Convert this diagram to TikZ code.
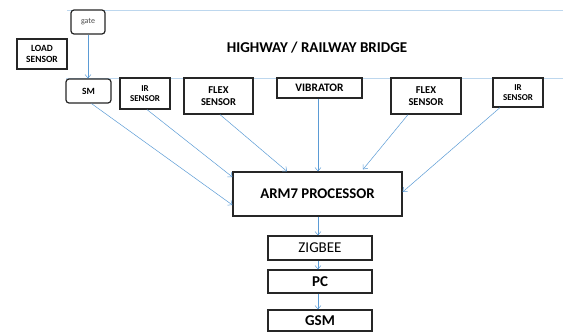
\documentclass[tikz,border=0pt]{standalone}
\usepackage{fontspec}
\setmainfont{Carlito}
\usetikzlibrary{arrows.meta}
\definecolor{arrowblue}{RGB}{91,155,213}
\definecolor{lineblue}{RGB}{189,215,238}
\begin{document}
\begin{tikzpicture}[x=1pt,y=-1pt,
  box/.style={draw=black!85,line width=1.2pt,fill=white,inner sep=0pt,align=center,
    font=\bfseries\fontsize{9.5}{10.5}\selectfont},
  rbox/.style={box,rounded corners=3pt},
  conn/.style={draw=arrowblue,line width=0.5pt,-{Straight Barb[length=3.5pt,width=6pt]}},
  rail/.style={draw=lineblue,line width=0.8pt}]
\useasboundingbox (0,0) rectangle (563,332);
% bridge lines
\coordinate (t1) at (67,10);
\coordinate (t2) at (563,10);
\coordinate (b1) at (66,78);
\coordinate (b2) at (563,78);
\draw[rail] (t1) -- (t2);
\draw[rail] (b1) -- (b2);
% title
\node[font=\bfseries\fontsize{15}{16}\selectfont] (title) at (317,48) {HIGHWAY / RAILWAY BRIDGE};
% nodes
\node[rbox,minimum width=34pt,minimum height=24pt,font=\fontsize{8}{9}\selectfont,text=black!70] (gate) at (88,22) {gate};
\node[box,minimum width=50pt,minimum height=30pt] (load) at (42,54) {LOAD\\SENSOR};
\node[rbox,minimum width=45pt,minimum height=24pt] (sm) at (88.5,91) {SM};
\node[box,minimum width=50pt,minimum height=31pt,font=\bfseries\fontsize{9}{10}\selectfont] (ir1) at (145,93.5) {IR\\SENSOR};
\node[box,minimum width=69pt,minimum height=36pt,font=\bfseries\fontsize{10.5}{12.5}\selectfont] (flex1) at (218.5,96) {FLEX\\SENSOR};
\node[box,minimum width=85pt,minimum height=20pt,font=\bfseries\fontsize{11.4}{12}\selectfont] (vib) at (319.5,88) {VIBRATOR};
\node[box,minimum width=70pt,minimum height=36pt,font=\bfseries\fontsize{10.5}{12.5}\selectfont] (flex2) at (426,96) {FLEX\\SENSOR};
\node[box,minimum width=50pt,minimum height=29pt,font=\bfseries\fontsize{9}{10}\selectfont] (ir2) at (518,92.5) {IR\\SENSOR};
\node[box,minimum width=169pt,minimum height=44pt,font=\bfseries\fontsize{14.8}{15}\selectfont] (arm) at (317.5,194) {ARM7 PROCESSOR};
\node[box,minimum width=104pt,minimum height=24pt,font=\fontsize{15}{16}\selectfont] (zig) at (320,248) {ZIGBEE};
\node[box,minimum width=104pt,minimum height=23pt,font=\bfseries\fontsize{15}{16}\selectfont] (pc) at (320,281.5) {PC};
\node[box,minimum width=104pt,minimum height=21pt,font=\bfseries\fontsize{15}{16}\selectfont] (gsm) at (320,320.5) {GSM};
% connectors
\draw[conn] (gate.south) -- (gate.south |- sm.north);
\draw[conn] ([xshift=3pt]sm.south) -- ([yshift=-11pt]arm.west);
\draw[conn] ([xshift=2pt]ir1.south) -- ([yshift=17pt]arm.west);
\draw[conn] ([xshift=1.5pt]flex1.south) -- ([xshift=-30.5pt]arm.north);
\draw[conn] ([xshift=-1.5pt]vib.south) -- ([xshift=0.5pt]arm.north);
\draw[conn] ([xshift=-18pt]flex2.south) -- ([xshift=45.5pt,yshift=2pt]arm.north);
\draw[conn] ([xshift=-18pt]ir2.south) -- ([yshift=2pt]arm.east);
\draw[conn] ([xshift=0.5pt]arm.south) -- ([xshift=0.5pt]arm.south |- zig.north);
\draw[conn] ([xshift=-2pt]zig.south) -- ([xshift=-2pt]zig.south |- pc.north);
\draw[conn] ([xshift=-2pt]pc.south) -- ([xshift=-2pt]pc.south |- gsm.north);
\end{tikzpicture}
\end{document}
